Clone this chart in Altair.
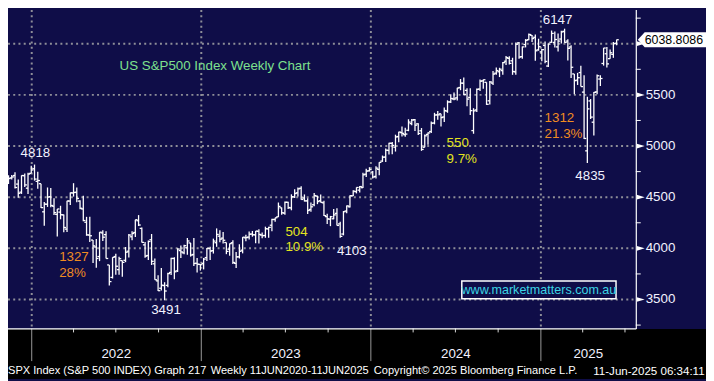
import altair as alt
import pandas as pd

# ---------------- data: weekly OHLC bars (week ending Friday) ----------------
first_week_end = "2021-11-12"

opens_2021 = [4701, 4689, 4712, 4628, 4549, 4710, 4588, 4733]
highs_2021 = [4714, 4718, 4743, 4672, 4713, 4731, 4740, 4808]
lows_2021 = [4630, 4672, 4585, 4495, 4532, 4600, 4531, 4733]
closes_2021 = [4682, 4698, 4595, 4538, 4712, 4620, 4726, 4766]

opens_2022 = [4778, 4655, 4632, 4357, 4431, 4505, 4412, 4332, 4354, 4327, 4188, 4462, 4541,
              4548, 4462, 4385, 4255, 4130, 4081, 4013, 3920, 4151, 4134, 3838, 3716, 3920,
              3792, 3880, 3883, 3972, 4113, 4155, 4270, 4195, 4034, 3930, 4084, 3849, 3682,
              3610, 3636, 3638, 3764, 3901, 3780, 3978, 3956, 4006, 4053, 3940, 3854, 3843]
highs_2022 = [4819, 4749, 4632, 4453, 4595, 4590, 4490, 4385, 4416, 4331, 4465, 4546, 4637,
              4594, 4471, 4513, 4308, 4308, 4082, 4091, 4159, 4177, 4168, 3838, 3913, 3946,
              3918, 3880, 4013, 4140, 4167, 4280, 4325, 4203, 4062, 4076, 4140, 3900, 3737,
              3807, 3669, 3762, 3907, 3912, 4001, 4028, 4034, 4101, 4053, 4101, 3906, 3846]
lows_2022 = [4662, 4582, 4395, 4222, 4405, 4401, 4327, 4115, 4284, 4157, 4161, 4424, 4506,
             4450, 4381, 4265, 4123, 4062, 3858, 3811, 3875, 4073, 3900, 3637, 3705, 3741,
             3743, 3722, 3865, 3910, 4079, 4110, 4218, 4057, 3907, 3886, 3837, 3693, 3584,
             3588, 3492, 3620, 3740, 3698, 3769, 3906, 3943, 3937, 3919, 3828, 3764, 3783]
closes_2022 = [4677, 4663, 4398, 4432, 4501, 4419, 4349, 4385, 4329, 4204, 4463, 4543, 4546,
               4488, 4392, 4272, 4132, 4123, 4024, 3901, 4158, 4109, 3901, 3675, 3912, 3825,
               3899, 3863, 3962, 4130, 4145, 4280, 4228, 4058, 3924, 4067, 3873, 3693, 3586,
               3640, 3583, 3753, 3901, 3771, 3993, 3965, 4026, 4072, 3934, 3852, 3845, 3840]

opens_2023 = [3853, 3910, 3999, 3978, 4055, 4119, 4100, 4057, 3992, 4055, 3853, 3917, 3982,
              4103, 4110, 4140, 4132, 4166, 4130, 4126, 4190, 4226, 4282, 4308, 4396, 4344,
              4450, 4395, 4502, 4543, 4587, 4492, 4464, 4380, 4426, 4510, 4466, 4445, 4310,
              4285, 4289, 4342, 4239, 4140, 4365, 4406, 4513, 4554, 4569, 4593, 4725, 4758]
highs_2023 = [3906, 4003, 4015, 4095, 4195, 4176, 4160, 4057, 4048, 4078, 3965, 4040, 4110,
              4133, 4164, 4170, 4170, 4187, 4155, 4212, 4212, 4290, 4300, 4448, 4400, 4458,
              4456, 4528, 4578, 4594, 4607, 4527, 4490, 4448, 4541, 4515, 4527, 4465, 4339,
              4317, 4385, 4393, 4259, 4365, 4418, 4520, 4569, 4596, 4609, 4739, 4779, 4793]
lows_2023 = [3794, 3877, 3885, 3949, 4015, 4060, 4047, 3943, 3928, 3847, 3809, 3901, 3951,
             4069, 4087, 4114, 4049, 4048, 4098, 4103, 4103, 4166, 4260, 4306, 4328, 4328,
             4385, 4372, 4491, 4507, 4474, 4458, 4335, 4357, 4412, 4432, 4448, 4317, 4238,
             4217, 4284, 4223, 4104, 4127, 4342, 4399, 4511, 4537, 4546, 4590, 4697, 4751]
closes_2023 = [3895, 3999, 3973, 4071, 4136, 4090, 4079, 3970, 4046, 3862, 3917, 3971, 4109,
               4105, 4138, 4133, 4169, 4136, 4124, 4192, 4205, 4282, 4299, 4410, 4348, 4450,
               4399, 4505, 4536, 4582, 4478, 4464, 4370, 4406, 4516, 4457, 4450, 4320, 4288,
               4309, 4327, 4224, 4117, 4358, 4415, 4514, 4559, 4595, 4604, 4719, 4755, 4770]

opens_2024 = [4745, 4703, 4772, 4853, 4892, 4957, 5026, 4989, 5093, 5131, 5111, 5154, 5219,
              5258, 5217, 5149, 4988, 5114, 5142, 5225, 5305, 5315, 5284, 5341, 5431, 5460,
              5471, 5572, 5614, 5544, 5476, 5151, 5353, 5557, 5637, 5623, 5442, 5615, 5712,
              5726, 5737, 5829, 5857, 5833, 5725, 6008, 5874, 5992, 6040, 6083, 6063, 5940, 5921]
highs_2024 = [4755, 4802, 4842, 4907, 4975, 5031, 5039, 5111, 5140, 5190, 5179, 5262, 5265,
              5264, 5222, 5176, 5112, 5134, 5239, 5325, 5342, 5315, 5376, 5447, 5505, 5524,
              5570, 5655, 5670, 5566, 5566, 5370, 5563, 5651, 5651, 5623, 5636, 5733, 5767,
              5765, 5822, 5879, 5878, 5863, 6013, 6018, 5973, 6045, 6099, 6085, 6091, 6049, 5949]
lows_2024 = [4682, 4682, 4714, 4845, 4845, 4918, 4920, 4946, 5038, 5094, 5092, 5145, 5203,
             5146, 5107, 4953, 4987, 5012, 5127, 5212, 5257, 5191, 5235, 5325, 5420, 5448,
             5446, 5546, 5497, 5390, 5304, 5120, 5332, 5539, 5561, 5402, 5406, 5596, 5698,
             5674, 5696, 5792, 5796, 5696, 5696, 5853, 5854, 5964, 6034, 6016, 5833, 5932, 5829]
closes_2024 = [4697, 4784, 4840, 4891, 4959, 5027, 5006, 5089, 5137, 5124, 5117, 5234, 5254,
               5204, 5123, 4967, 5100, 5128, 5223, 5303, 5305, 5278, 5347, 5431, 5465, 5460,
               5567, 5615, 5505, 5459, 5346, 5344, 5554, 5634, 5648, 5408, 5626, 5703, 5738,
               5751, 5815, 5865, 5808, 5729, 5995, 5870, 5969, 6032, 6090, 6051, 5931, 5971, 5942]

opens_2025 = [5983, 5782, 6014, 6013, 5969, 6046, 6121, 6026, 5968, 5705, 5644, 5718, 5527,
              4953, 5441, 5233, 5529, 5655, 5807, 5902, 5854, 5896, 6005]
highs_2025 = [6021, 6001, 6129, 6120, 6101, 6127, 6147, 6043, 5986, 5705, 5715, 5786, 5691,
              5481, 5459, 5528, 5700, 5691, 5959, 5969, 5944, 6017, 6040]
lows_2025 = [5809, 5773, 6009, 5962, 5923, 6003, 6009, 5837, 5666, 5505, 5597, 5581, 5069,
             4835, 5264, 5102, 5506, 5586, 5786, 5767, 5854, 5862, 5985]
closes_2025 = [5827, 5997, 6101, 6041, 6026, 6115, 6013, 5955, 5770, 5639, 5668, 5581, 5074,
               5363, 5283, 5525, 5687, 5660, 5958, 5803, 5912, 6000, 6039]

opens = opens_2021 + opens_2022 + opens_2023 + opens_2024 + opens_2025
highs = highs_2021 + highs_2022 + highs_2023 + highs_2024 + highs_2025
lows = lows_2021 + lows_2022 + lows_2023 + lows_2024 + lows_2025
closes = closes_2021 + closes_2022 + closes_2023 + closes_2024 + closes_2025

last_price = 6038.8086

# axis content
price_levels = [3500, 4000, 4500, 5000, 5500, 6000]
price_labels = [3500, 4000, 4500, 5000, 5500]
minor_levels = [3250, 3750, 4250, 4750, 5250, 5750, 6250]
year_starts = ["2022-01-01", "2023-01-01", "2024-01-01", "2025-01-01"]
quarter_starts = ["2022-04-01", "2022-07-01", "2022-10-01", "2023-04-01", "2023-07-01",
                  "2023-10-01", "2024-04-01", "2024-07-01", "2024-10-01", "2025-04-01",
                  "2025-07-01"]
year_labels = ["2022", "2023", "2024", "2025"]
year_label_dates = ["2022-07-02", "2023-07-02", "2024-07-02", "2025-04-13"]

# annotations
ext_text = ["4818", "3491", "4103", "6147", "4835"]
ext_date = ["2022-01-09", "2022-10-17", "2023-11-21", "2025-02-06", "2025-04-17"]
ext_value = [4927, 3400, 3971, 6232, 4705]

note_text = ["US S&P500 Index Weekly Chart", "1327", "28%", "504", "10.9%",
             "550", "9.7%", "1312", "21.3%"]
note_kind = ["title", "fall", "fall", "rise", "rise", "rise", "rise", "fall", "fall"]
note_date = ["2022-07-09", "2022-03-01", "2022-03-01", "2023-07-01", "2023-07-01",
             "2024-06-12", "2024-06-12", "2025-01-09", "2025-01-09"]
note_value = [5778, 3918, 3763, 4164, 4009, 5034, 4874, 5270, 5121]

footer_parts = ["SPX Index (S&P 500 INDEX) Graph 217", "Weekly 11JUN2020-11JUN2025",
                "Copyright\u00a9 2025 Bloomberg Finance L.P.", "11-Jun-2025 06:34:11"]
website = "www.marketmatters.com.au"

# ---------------- build ----------------
ORIGIN = pd.Timestamp("2022-01-01")


def days(dates):
    return [(pd.Timestamp(d) - ORIGIN).days for d in dates]


week_end = pd.date_range(first_week_end, periods=len(opens), freq="W-FRI")
bars = pd.DataFrame({"d": days(week_end), "o": opens, "h": highs, "l": lows, "c": closes})

NAVY = "#0f0d48"
GRID = "#8e8e98"
WHITE = "#f2f2ff"
FONT = "Liberation Sans"

W, H = 635, 322
xs = alt.Scale(domain=[-51.075, 1300.31], nice=False, zero=False)
ys = alt.Scale(domain=[3216.9, 6328.6], nice=False, zero=False)


def X(f):
    return alt.X(f"{f}:Q", scale=xs, axis=None)


def Y(f):
    return alt.Y(f"{f}:Q", scale=ys, axis=None)


one = pd.DataFrame({"a": [0]})
levels_df = pd.DataFrame({"v": price_levels})
labels_df = pd.DataFrame({"v": price_labels, "lab": [str(v) for v in price_labels]})
minor_df = pd.DataFrame({"v": minor_levels})
years_df = pd.DataFrame({"d": days(year_starts)})
quarters_df = pd.DataFrame({"d": days(quarter_starts)})
ylab_df = pd.DataFrame({"d": days(year_label_dates), "t": year_labels})
ext_df = pd.DataFrame({"d": days(ext_date), "v": ext_value, "t": ext_text})
note_df = pd.DataFrame({"d": days(note_date), "v": note_value, "t": note_text, "k": note_kind})
last_df = pd.DataFrame({"v": [last_price], "t": [f"{last_price:.4f}"]})

band = alt.Chart(one).mark_rect(color="#000000").encode(
    x=alt.value(0), x2=alt.value(706), y=alt.value(322.5), y2=alt.value(373))

hgrid = alt.Chart(levels_df).mark_rule(color=GRID, strokeWidth=2, strokeDash=[2, 3.3]).encode(
    y=Y("v"), x=alt.value(0), x2=alt.value(635))
vgrid = alt.Chart(years_df).mark_rule(color=GRID, strokeWidth=2, strokeDash=[2, 3.3]).encode(
    x=X("d"), y=alt.value(0), y2=alt.value(322))
ylong = alt.Chart(years_df).mark_rule(color="#9a9a9a", strokeWidth=1).encode(
    x=X("d"), y=alt.value(322), y2=alt.value(355))
qticks = alt.Chart(quarters_df).mark_rule(color="#d8d8d8", strokeWidth=1).encode(
    x=X("d"), y=alt.value(322), y2=alt.value(326))

hl = alt.Chart(bars).mark_rule(color="white", strokeWidth=1.3).encode(
    x=X("d"), y=Y("l"), y2=alt.Y2("h"))
op = alt.Chart(bars).mark_rule(color="white", strokeWidth=1.3, xOffset=-2.2, x2Offset=0).encode(
    x=X("d"), x2=alt.X2("d"), y=Y("o"))
cl = alt.Chart(bars).mark_rule(color="white", strokeWidth=1.3, xOffset=0, x2Offset=2.2).encode(
    x=X("d"), x2=alt.X2("d"), y=Y("c"))

ax_b = alt.Chart(one).mark_rule(color="white", strokeWidth=1.2).encode(
    x=alt.value(0), x2=alt.value(635.5), y=alt.value(322.5))
ax_r = alt.Chart(one).mark_rule(color="white", strokeWidth=1.2).encode(
    x=alt.value(635.5), y=alt.value(0), y2=alt.value(322.5))

tri = alt.Chart(levels_df).mark_point(
    shape="M-1,-0.6L1,0L-1,0.6Z", filled=True, color="white", opacity=1, size=64).encode(
    x=alt.value(640), y=Y("v"))
minor = alt.Chart(minor_df).mark_rule(color="white", strokeWidth=1).encode(
    x=alt.value(635), x2=alt.value(640), y=Y("v"))
ylabels = alt.Chart(labels_df).mark_text(
    align="left", baseline="middle", font=FONT, fontSize=13.5, color=WHITE).encode(
    x=alt.value(645), y=Y("v"), text="lab:N")

xlabels = alt.Chart(ylab_df).mark_text(
    align="center", baseline="middle", font=FONT, fontSize=13.5, color=WHITE).encode(
    x=X("d"), y=alt.value(348), text="t:N")

footer_x = [0, 205, 370, 592]
footer_size = [11.2, 11.2, 11.2, 11.7]
footer = alt.layer(*[
    alt.Chart(one).mark_text(align="left", baseline="middle", font=FONT, fontSize=fs,
                             color="white", text=t).encode(x=alt.value(fx), y=alt.value(365))
    for t, fx, fs in zip(footer_parts, footer_x, footer_size)
])

ext = alt.Chart(ext_df).mark_text(
    align="center", baseline="middle", font=FONT, fontSize=13.5, color=WHITE).encode(
    x=X("d"), y=Y("v"), text="t:N")
notes = alt.Chart(note_df).mark_text(
    align="left", baseline="middle", font=FONT, fontSize=13.5).encode(
    x=X("d"), y=Y("v"), text="t:N",
    color=alt.Color("k:N", legend=None,
                    scale=alt.Scale(domain=["title", "fall", "rise"],
                                    range=["#7ee08e", "#f08c22", "#e4e41e"])))

box = alt.Chart(last_df).mark_point(
    shape="M-1,0L-0.8,-0.214L1,-0.214L1,0.214L-0.8,0.214Z", filled=True, color="white",
    opacity=1, size=4900).encode(x=alt.value(672), y=Y("v"))
box_t = alt.Chart(last_df).mark_text(
    align="left", baseline="middle", font=FONT, fontSize=12.5, color="black").encode(
    x=alt.value(644), y=Y("v"), text="t:N")

site_box = alt.Chart(one).mark_rect(fill=NAVY, stroke="white", strokeWidth=1.5).encode(
    x=alt.value(459), x2=alt.value(615), y=alt.value(274), y2=alt.value(292))
site_t = alt.Chart(one).mark_text(
    align="center", baseline="middle", font=FONT, fontSize=12.7, color="#3cd4e4",
    text=website).encode(x=alt.value(537), y=alt.value(283.5))

chart = alt.layer(
    band, hgrid, vgrid, ylong, qticks, hl, op, cl, ax_b, ax_r, tri, minor, ylabels,
    xlabels, footer, ext, notes, box, box_t, site_box, site_t
).properties(
    width=W, height=H, background=NAVY,
    padding={"left": 0, "top": 0, "right": 71, "bottom": 51},
    autosize=alt.AutoSizeParams(type="none"),
).configure_view(stroke=None)

chart.save("out.html", embed_options={"renderer": "svg", "actions": False})
